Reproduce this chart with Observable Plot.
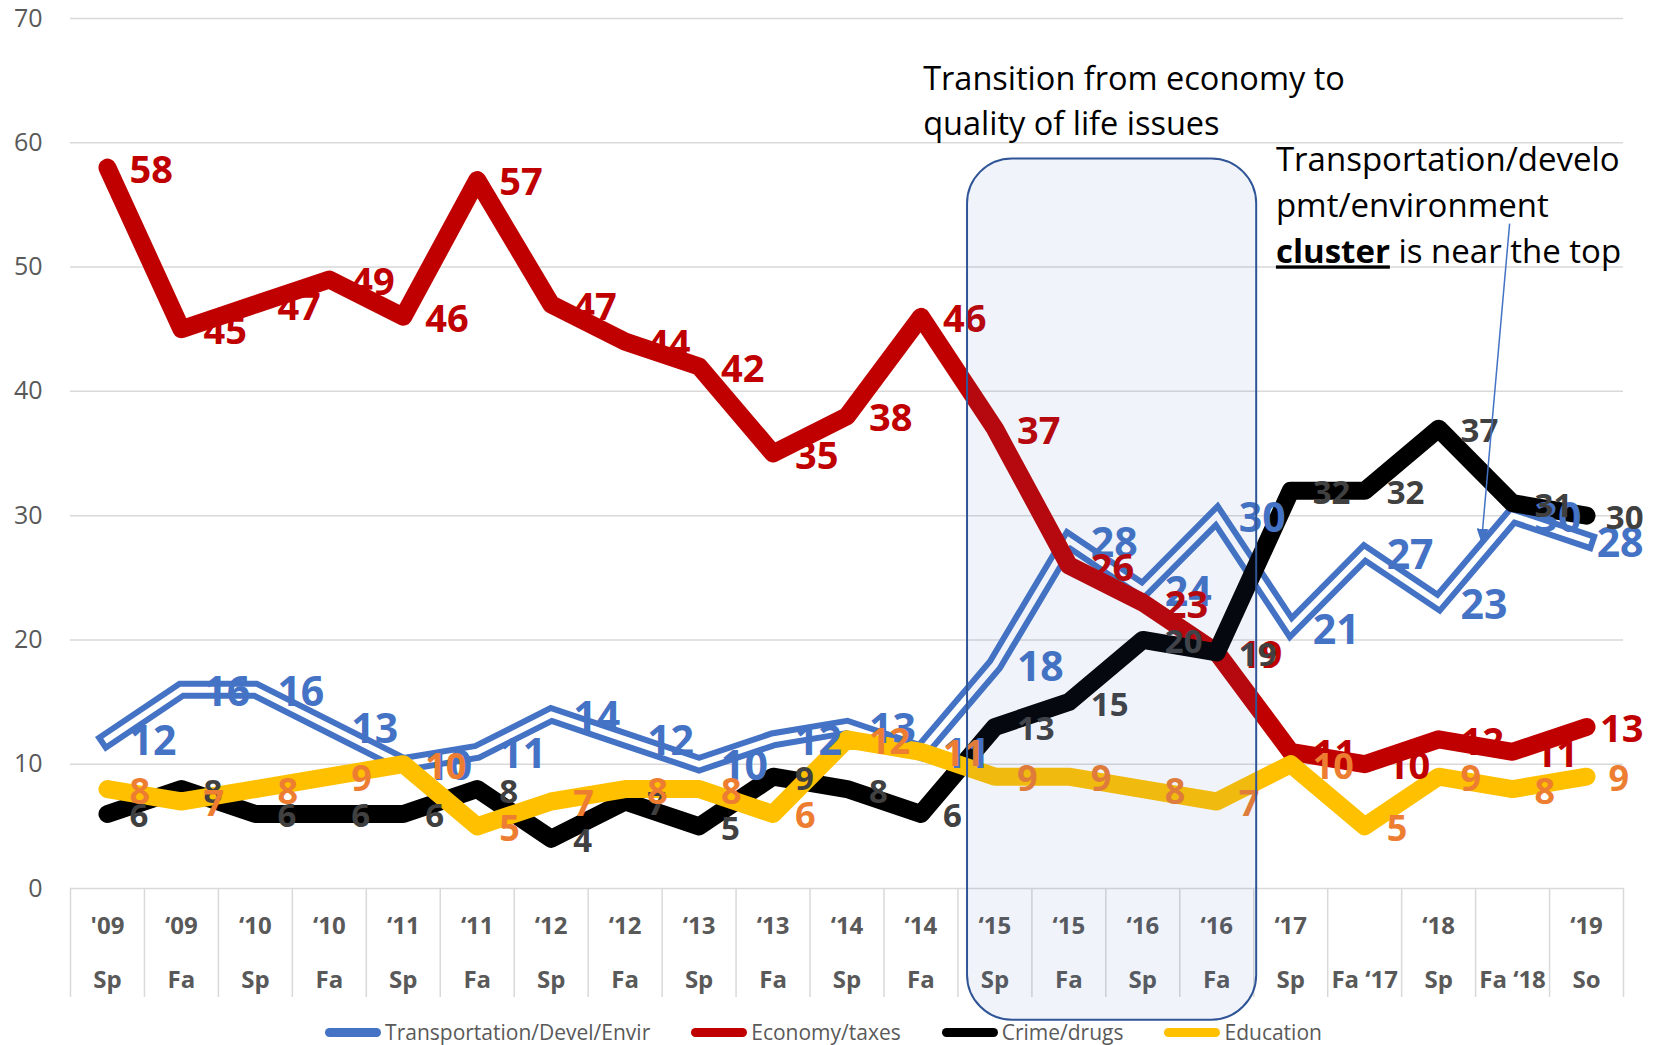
<!DOCTYPE html>
<html>
<head>
<meta charset="utf-8">
<script src="https://cdn.jsdelivr.net/npm/d3@7"></script>
<script src="https://cdn.jsdelivr.net/npm/@observablehq/plot@0.6"></script>
<style>
  html, body { margin: 0; padding: 0; background: #fff; }
  body { width: 1663px; height: 1045px; overflow: hidden; font-family: "Open Sans", sans-serif; }
  #legend { display: flex; justify-content: center; align-items: center; height: 40px; gap: 41px;
            font-size: 21px; color: #595959; position: relative; padding-right: 16px; }
  #legend .item { display: flex; align-items: center; gap: 4px; }
  #legend .sw { width: 56px; height: 9px; border-radius: 5px; }
</style>
</head>
<body>
<div id="chart"></div>
<div id="legend"></div>
<script>
// ---- data ----
const periodYear = ["'09","‘09","‘10","‘10","‘11","‘11","‘12","‘12","‘13","‘13","‘14","‘14","‘15","‘15","‘16","‘16","‘17","","‘18","","‘19"];
const periodSeason = ["Sp","Fa","Sp","Fa","Sp","Fa","Sp","Fa","Sp","Fa","Sp","Fa","Sp","Fa","Sp","Fa","Sp","Fa ‘17","Sp","Fa ‘18","So"];
const transport = [12,16,16,13,10,11,14,12,10,12,13,11,18,28,24,30,21,27,23,30,28];
const economy   = [58,45,47,49,46,57,47,44,42,35,38,46,37,26,23,19,11,10,12,11,13];
const crime     = [6,8,6,6,6,8,4,7,5,9,8,6,13,15,20,19,32,32,37,31,30];
const education = [8,7,8,9,10,5,7,8,8,6,12,11,9,9,8,7,10,5,9,8,9];
const seriesNames = ["Transportation/Devel/Envir","Economy/taxes","Crime/drugs","Education"];
const yTicks = [0,10,20,30,40,50,60,70];

// annotations (in data units)
const highlightBox = [{x1: 11.63, x2: 15.54, y1: -10.6, y2: 58.7}];
const noteTransition = [{x: 11.03, y: 63.6, text: "Transition from economy to\nquality of life issues"}];
const noteCluster = [{x: 15.8, y: 55.2, text: "Transportation/develo\npmt/environment\ncluster is near the top"}];
const arrowLine = [{x1: 18.96, y1: 53.5, x2: 18.58, y2: 27.9}];

// ---- styles ----
const lineColors = ["#4472C4","#C00000","#000000","#FFC000"];
const labelColors = ["#4472C4","#C00000","#404040","#ED7D31"];
const labelSizes = [41, 38, 33, 36];
const clampLast = [true, true, true, false];

const n = periodSeason.length;
const idx = d3.range(n);
const rows = vals => vals.map((v, i) => ({i, v}));
const series = [transport, economy, crime, education].map(rows);
const boundaries = d3.range(n + 1).map(d => d - 0.5);

const lineBase = {x: "i", y: "v", strokeWidth: 18, strokeLinejoin: "round", strokeLinecap: "round"};
const doubleBase = {x: "i", y: "v", strokeLinejoin: "miter", strokeLinecap: "square", strokeMiterlimit: 4};
const labelStyle = k => ({x: "i", y: "v", text: d => String(d.v), lineAnchor: "middle", dy: 3,
  fill: labelColors[k], fontSize: labelSizes[k], fontWeight: "bold", fontFamily: "Open Sans"});
const labelMarks = (k) => {
  if (!clampLast[k]) return [Plot.text(series[k], {...labelStyle(k), dx: 22, textAnchor: "start"})];
  return [
    Plot.text(series[k].filter(d => d.i < n - 1), {...labelStyle(k), dx: 22, textAnchor: "start"}),
    Plot.text(series[k].filter(d => d.i === n - 1), {...labelStyle(k), dx: 57, textAnchor: "end"})
  ];
};

const chart = Plot.plot({
  width: 1663,
  height: 1012,
  marginLeft: 70,
  marginRight: 40,
  marginTop: 18,
  marginBottom: 124,
  style: {fontFamily: "Open Sans", overflow: "visible", background: "transparent"},
  x: {type: "linear", domain: [-0.5, n - 0.5], label: null},
  y: {domain: [0, 70], label: null},
  marks: [
    Plot.gridY(yTicks, {stroke: "#D9D9D9", strokeOpacity: 1, strokeWidth: 1.5}),
    Plot.axisY({ticks: yTicks, tickSize: 0, tickPadding: 28, fontSize: 25, fill: "#595959", label: null, tickFormat: d => String(d)}),
    Plot.axisX({ticks: boundaries, tickSize: 109, tickFormat: () => "", stroke: "#D9D9D9", strokeWidth: 1.5, label: null}),
    Plot.text(idx, {x: d => d, text: d => periodYear[d], frameAnchor: "bottom", dy: 45, fontSize: 24, fontWeight: "bold", fill: "#595959"}),
    Plot.text(idx, {x: d => d, text: d => periodSeason[d], frameAnchor: "bottom", dy: 99, fontSize: 24, fontWeight: "bold", fill: "#595959"}),
    // lines
    Plot.line(series[0], {...doubleBase, stroke: lineColors[0], strokeWidth: 18}),
    Plot.line(series[0], {...doubleBase, stroke: "#FFFFFF", strokeWidth: 6}),
    Plot.line(series[1], {...lineBase, stroke: lineColors[1]}),
    Plot.line(series[2], {...lineBase, stroke: lineColors[2]}),
    Plot.line(series[3], {...lineBase, stroke: lineColors[3]}),
    // data labels
    ...labelMarks(0), ...labelMarks(1), ...labelMarks(2), ...labelMarks(3),
    // highlight box
    Plot.rect(highlightBox, {x1: "x1", x2: "x2", y1: "y1", y2: "y2", rx: 45, fill: "#4472C4", fillOpacity: 0.08, stroke: "#2F5597", strokeWidth: 2}),
    // notes
    Plot.text(noteTransition, {x: "x", y: "y", text: "text", textAnchor: "start", lineAnchor: "middle", lineHeight: 1.37, fontSize: 32.5, fill: "#000"}),
    Plot.text(noteCluster, {x: "x", y: "y", text: "text", textAnchor: "start", lineAnchor: "middle", lineHeight: 1.4, fontSize: 33, fill: "#000"}),
    Plot.link(arrowLine, {x1: "x1", y1: "y1", x2: "x2", y2: "y2", stroke: "#4472C4", strokeWidth: 1.5})
  ]
});
document.getElementById("chart").appendChild(chart);

// mixed styling on the note's last line
const ns = "http://www.w3.org/2000/svg";
const target = "cluster is near the top";
chart.querySelectorAll("tspan, text").forEach(el => {
  if (el.children.length === 0 && el.textContent === target) {
    el.textContent = "";
    const b = document.createElementNS(ns, "tspan");
    b.setAttribute("font-weight", "bold");
    b.setAttribute("text-decoration", "underline");
    b.style.textDecoration = "underline";
    b.textContent = "cluster";
    const r = document.createElementNS(ns, "tspan");
    r.textContent = " is near the top";
    el.append(b, r);
  }
});
// filled arrow head
const defs = document.createElementNS(ns, "defs");
defs.innerHTML = '<marker id="ahead" viewBox="0 0 14 12" refX="13" refY="6" markerWidth="14" markerHeight="12" markerUnits="userSpaceOnUse" orient="auto"><path d="M0,0L14,6L0,12z" fill="#4472C4"/></marker>';
chart.insertBefore(defs, chart.firstChild);
chart.querySelectorAll('g[aria-label="link"] path').forEach(p => p.setAttribute("marker-end", "url(#ahead)"));

// legend
const legend = document.getElementById("legend");
seriesNames.forEach((name, k) => {
  const item = document.createElement("div");
  item.className = "item";
  const sw = document.createElement("div");
  sw.className = "sw";
  sw.style.background = lineColors[k];
  const t = document.createElement("span");
  t.textContent = name;
  item.append(sw, t);
  legend.append(item);
});
</script>
</body>
</html>
